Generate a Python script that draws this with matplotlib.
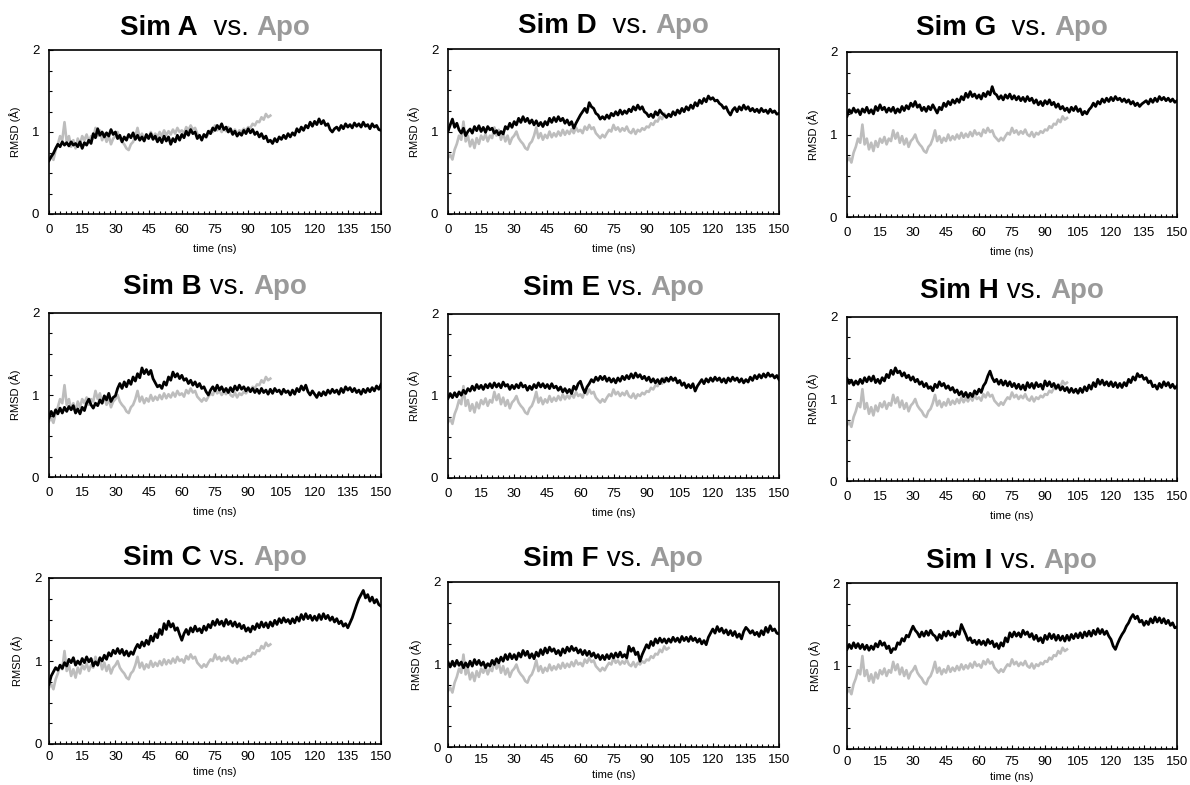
import numpy as np
import matplotlib.pyplot as plt
from matplotlib.ticker import MultipleLocator

plt.rcParams['font.family'] = ['Liberation Sans', 'DejaVu Sans']

# RMSD values, in hundredths of an Angstrom, one per ns
apo = [68, 72, 66, 78, 85, 95, 90, 112, 88, 95,
       82, 90, 80, 92, 85, 95, 90, 97, 88, 95,
       92, 105, 95, 102, 90, 98, 88, 95, 85, 92,
       95, 100, 92, 88, 85, 80, 78, 85, 88, 95,
       105, 92, 98, 90, 96, 92, 100, 93, 98, 94,
       100, 95, 102, 96, 101, 97, 103, 98, 105, 100,
       102, 98, 106, 102, 108, 103, 105, 98, 95, 92,
       96, 93, 98, 102, 100, 108, 102, 105, 100, 104,
       101, 106, 100, 98, 103, 97, 102, 100, 104, 102,
       106, 105, 110, 108, 113, 112, 118, 115, 122, 118,
       120]

sim_a = [65, 70, 74, 80, 85, 82, 88, 84, 87, 83,
         88, 84, 86, 82, 88, 80, 87, 84, 90, 86,
         98, 93, 104, 96, 100, 94, 99, 95, 103, 97,
         100, 92, 96, 88, 94, 90, 97, 93, 99, 91,
         96, 90, 94, 89, 97, 92, 98, 91, 95, 88,
         93, 87, 95, 89, 94, 85, 92, 88, 96, 90,
         97, 93, 101, 96, 103, 98, 100, 92, 96, 90,
         97, 94, 101, 98, 105, 102, 108, 104, 110, 103,
         106, 100, 104, 97, 101, 95, 99, 96, 102, 98,
         104, 99, 103, 97, 100, 94, 98, 92, 95, 88,
         90, 86, 92, 88, 94, 91, 96, 92, 98, 94,
         99, 96, 104, 100, 106, 102, 108, 105, 112, 107,
         113, 109, 116, 110, 114, 108, 110, 103, 100, 104,
         106, 102, 108, 104, 110, 106, 109, 105, 111, 107,
         110, 106, 112, 107, 109, 104, 110, 106, 108, 103,
         102]

sim_b = [72, 80, 74, 82, 77, 84, 78, 85, 80, 86,
         82, 87, 78, 83, 77, 85, 81, 90, 95, 88,
         84, 90, 87, 94, 90, 99, 94, 102, 92, 97,
         99, 108, 114, 108, 116, 110, 118, 113, 122, 117,
         126, 121, 133, 126, 131, 125, 130, 120, 115, 110,
         112, 108, 116, 112, 122, 118, 128, 122, 126, 120,
         124, 118, 120, 114, 118, 112, 116, 110, 114, 108,
         110, 104, 100, 106, 110, 105, 112, 106, 110, 104,
         108, 103, 109, 104, 111, 106, 112, 107, 110, 105,
         109, 104, 108, 103, 107, 102, 108, 103, 106, 101,
         107, 102, 108, 104, 106, 101, 107, 103, 105, 100,
         106, 101, 108, 104, 111, 106, 112, 104, 100, 105,
         101, 97, 103, 99, 104, 100, 106, 102, 107, 103,
         106, 101, 108, 103, 110, 106, 109, 104, 108, 103,
         106, 101, 107, 103, 108, 104, 109, 105, 111, 107,
         113]

sim_c = [72, 82, 87, 92, 89, 95, 91, 98, 94, 102,
         98, 104, 95, 100, 96, 103, 98, 105, 99, 103,
         94, 99, 95, 104, 100, 107, 102, 110, 106, 113,
         109, 115, 109, 114, 107, 112, 106, 111, 108, 115,
         120, 116, 123, 118, 125, 120, 130, 124, 133, 128,
         138, 132, 145, 138, 148, 141, 145, 137, 140, 132,
         125, 133, 138, 132, 140, 135, 142, 136, 139, 134,
         142, 137, 144, 140, 148, 143, 150, 144, 148, 142,
         150, 144, 148, 142, 147, 141, 145, 139, 143, 136,
         140, 135, 142, 138, 145, 140, 147, 141, 146, 140,
         147, 142, 149, 144, 151, 146, 152, 147, 150, 145,
         151, 146, 153, 148, 156, 150, 157, 151, 155, 149,
         154, 149, 156, 150, 157, 151, 155, 149, 153, 147,
         151, 145, 148, 142, 145, 140, 146, 152, 160, 168,
         175, 180, 185, 176, 180, 172, 177, 170, 174, 168,
         166]

sim_d = [100, 108, 115, 105, 110, 102, 98, 104, 95, 100,
         103, 98, 106, 101, 107, 100, 105, 99, 106, 102,
         104, 98, 101, 96, 100, 97, 106, 103, 110, 105,
         112, 108, 116, 111, 118, 112, 116, 110, 114, 108,
         113, 107, 111, 106, 112, 108, 116, 111, 117, 112,
         118, 113, 116, 110, 114, 108, 112, 104, 110, 115,
         120, 124, 128, 123, 135, 130, 128, 122, 120, 115,
         118, 115, 120, 116, 122, 119, 124, 120, 126, 121,
         125, 122, 127, 124, 130, 126, 132, 127, 130, 124,
         122, 118, 121, 117, 124, 120, 126, 122, 120, 117,
         121, 118, 124, 120, 126, 122, 128, 124, 130, 126,
         132, 128, 135, 131, 138, 134, 140, 136, 143, 139,
         141, 137, 138, 134, 132, 128, 130, 124, 120, 126,
         129, 124, 130, 126, 132, 127, 130, 125, 128, 124,
         127, 123, 128, 124, 126, 122, 127, 123, 125, 121,
         122]

sim_e = [97, 103, 98, 104, 99, 105, 101, 107, 103, 109,
         106, 112, 107, 114, 109, 113, 108, 114, 110, 115,
         110, 116, 111, 115, 110, 117, 112, 114, 108, 113,
         109, 114, 110, 116, 111, 113, 107, 112, 108, 114,
         110, 116, 111, 115, 110, 114, 109, 115, 110, 112,
         107, 111, 105, 109, 104, 108, 103, 112, 108, 115,
         118, 110, 104, 111, 115, 120, 117, 123, 119, 124,
         120, 124, 118, 122, 117, 121, 116, 122, 118, 124,
         120, 125, 121, 127, 122, 128, 123, 126, 121, 124,
         119, 123, 117, 121, 116, 120, 115, 121, 117, 122,
         118, 123, 119, 122, 116, 119, 113, 116, 110, 114,
         110, 115, 106, 112, 116, 120, 115, 121, 117, 122,
         118, 123, 119, 122, 117, 121, 116, 122, 118, 123,
         119, 122, 117, 121, 116, 120, 117, 123, 119, 125,
         121, 126, 122, 127, 123, 128, 124, 126, 122, 125,
         120]

sim_f = [103, 97, 104, 98, 105, 99, 103, 96, 102, 97,
         104, 98, 106, 100, 105, 99, 103, 96, 101, 98,
         105, 100, 107, 102, 109, 104, 112, 106, 113, 107,
         112, 106, 114, 109, 117, 111, 116, 108, 113, 107,
         115, 110, 118, 112, 120, 114, 121, 116, 119, 113,
         117, 111, 119, 114, 121, 116, 122, 117, 120, 114,
         118, 112, 117, 111, 116, 110, 114, 108, 112, 106,
         111, 106, 112, 107, 113, 108, 114, 109, 115, 109,
         112, 108, 122, 116, 120, 112, 115, 104, 112, 118,
         124, 120, 128, 123, 131, 126, 132, 127, 131, 126,
         131, 127, 133, 128, 132, 127, 134, 129, 133, 128,
         134, 129, 132, 127, 131, 125, 129, 124, 133, 138,
         143, 138, 146, 140, 144, 138, 142, 136, 141, 135,
         140, 133, 137, 131, 140, 145, 142, 138, 141, 136,
         139, 134, 141, 136, 145, 139, 147, 141, 143, 138,
         137]

sim_g = [122, 130, 126, 132, 127, 130, 124, 131, 127, 133,
         126, 130, 125, 134, 129, 136, 130, 133, 127, 132,
         128, 133, 126, 131, 127, 134, 129, 135, 131, 138,
         134, 140, 133, 136, 129, 133, 128, 134, 130, 136,
         131, 126, 133, 130, 138, 134, 140, 136, 142, 138,
         143, 139, 146, 142, 150, 145, 152, 146, 149, 144,
         148, 143, 150, 146, 152, 148, 158, 150, 148, 143,
         147, 142, 148, 144, 149, 143, 147, 142, 146, 141,
         145, 140, 146, 141, 144, 138, 142, 136, 140, 135,
         141, 137, 142, 136, 139, 133, 137, 131, 134, 129,
         132, 127, 133, 129, 134, 128, 131, 124, 128, 125,
         130, 133, 138, 134, 140, 137, 143, 139, 144, 140,
         145, 141, 146, 142, 144, 140, 143, 139, 142, 137,
         140, 135, 138, 134, 137, 139, 141, 137, 143, 139,
         144, 140, 146, 142, 145, 141, 144, 140, 143, 139,
         141]

sim_h = [125, 119, 123, 117, 122, 118, 124, 119, 126, 121,
         127, 122, 128, 120, 124, 119, 126, 122, 130, 126,
         135, 130, 138, 132, 134, 128, 132, 126, 129, 123,
         127, 121, 124, 118, 121, 115, 119, 113, 115, 110,
         118, 114, 121, 116, 119, 113, 116, 111, 114, 108,
         111, 105, 109, 103, 108, 102, 107, 103, 110, 106,
         112, 108, 116, 120, 128, 134, 126, 121, 124, 118,
         123, 117, 122, 116, 121, 115, 119, 113, 118, 112,
         117, 111, 120, 114, 119, 113, 120, 115, 118, 112,
         122, 116, 121, 115, 119, 113, 117, 111, 115, 110,
         114, 108, 113, 108, 112, 107, 113, 108, 115, 110,
         117, 112, 120, 115, 124, 118, 123, 117, 121, 116,
         121, 115, 120, 114, 119, 114, 120, 116, 124, 120,
         127, 123, 131, 127, 129, 124, 126, 120, 122, 115,
         117, 112, 119, 114, 121, 116, 120, 114, 118, 113,
         116]

sim_i = [120, 126, 121, 128, 122, 127, 121, 126, 120, 125,
         119, 124, 120, 127, 123, 130, 125, 128, 121, 124,
         116, 121, 120, 128, 126, 133, 130, 137, 135, 142,
         148, 143, 140, 135, 141, 136, 142, 137, 143, 138,
         136, 131, 138, 133, 141, 136, 142, 137, 140, 135,
         142, 138, 150, 144, 138, 131, 134, 128, 131, 126,
         131, 126, 130, 125, 132, 127, 130, 123, 127, 121,
         128, 124, 134, 129, 140, 135, 141, 136, 140, 135,
         143, 138, 141, 135, 139, 132, 137, 130, 134, 128,
         137, 132, 139, 133, 138, 131, 137, 131, 136, 130,
         137, 131, 138, 133, 139, 134, 140, 134, 141, 136,
         142, 136, 143, 138, 145, 139, 144, 138, 142, 136,
         132, 124, 120, 127, 133, 138, 142, 148, 152, 158,
         162, 157, 160, 153, 155, 149, 154, 150, 157, 152,
         159, 153, 158, 152, 157, 151, 155, 149, 152, 146,
         147]

names = ['A', 'B', 'C', 'D', 'E', 'F', 'G', 'H', 'I']
sims = [sim_a, sim_b, sim_c, sim_d, sim_e, sim_f, sim_g, sim_h, sim_i]
xticks = [0, 15, 30, 45, 60, 75, 90, 105, 120, 135, 150]

W, H = 1190, 785
fig = plt.figure(figsize=(W / 100, H / 100), dpi=100)

# pixel boxes (left, top, right, bottom) and title baselines, column by column
boxes = {
    'A': (49, 50, 381, 214), 'B': (49, 313, 381, 477), 'C': (49, 578, 381, 744),
    'D': (448, 49, 779, 214), 'E': (448, 314, 779, 478), 'F': (448, 582, 779, 747),
    'G': (847, 52, 1177, 217), 'H': (847, 317, 1177, 481), 'I': (847, 583, 1177, 749),
}
title_y = {'A': 35, 'B': 294, 'C': 565, 'D': 33, 'E': 295, 'F': 566,
           'G': 35, 'H': 298, 'I': 568}
bottom_row = ('C', 'F', 'I')

t_ns = np.arange(151)
t_apo = np.arange(101)

renderer = fig.canvas.get_renderer()

for name, sim in zip(names, sims):
    l, t, r, b = boxes[name]
    ax = fig.add_axes([l / W, 1 - b / H, (r - l) / W, (b - t) / H])
    ax.plot(t_apo, np.array(apo) / 100, color='#bdbdbd', lw=1.9)
    ax.plot(t_ns, np.array(sim) / 100, color='black', lw=2.0)
    ax.set_xlim(0, 150)
    ax.set_ylim(0, 2)
    ax.set_xticks(xticks)
    ax.set_yticks([0, 1, 2])
    ax.xaxis.set_minor_locator(MultipleLocator(2.5))
    ax.yaxis.set_minor_locator(MultipleLocator(0.25))
    low = name in bottom_row
    ax.tick_params(which='both', direction='in', top=False, right=False,
                   labelsize=9.5, pad=5 if low else 7)
    ax.tick_params(which='major', length=3, width=0.8)
    ax.tick_params(which='minor', length=2, width=0.8)
    for sp in ax.spines.values():
        sp.set_linewidth(1.2)
    ax.set_xlabel('time (ns)', fontsize=8, labelpad=3 if low else 6)
    ax.set_ylabel('RMSD (Å)', fontsize=8, labelpad=8)

    # title built from three pieces, centred over the axes
    gap = '  vs. ' if name in ('A', 'D', 'G') else ' vs. '
    parts = [('Sim ' + name, 'bold', 'black'), (gap, 'normal', 'black'),
             ('Apo', 'bold', '#9a9a9a')]
    ty = 1 - title_y[name] / H
    texts = [fig.text(0, ty, s, fontsize=20, fontweight=w, color=c,
                      va='baseline', ha='left') for s, w, c in parts]
    widths = [tx.get_window_extent(renderer).width for tx in texts]
    x = (l + r) / 2 - sum(widths) / 2
    for tx, wd in zip(texts, widths):
        tx.set_x(x / W)
        x += wd

fig.savefig('out.png', dpi=100)
